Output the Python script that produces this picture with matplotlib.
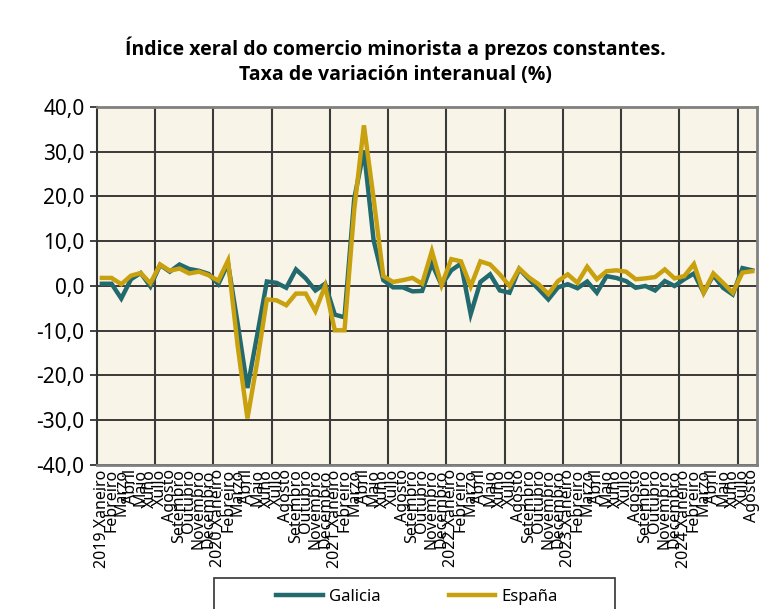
import numpy
import matplotlib
matplotlib.use('Agg')
import matplotlib.pyplot as plt
from matplotlib.patches import Rectangle

plt.rcParams['font.family'] = ['Noto Sans', 'DejaVu Sans']

#months and years of the series
months = ['Xaneiro', 'Febreiro', 'Marzo', 'Abril', 'Maio', 'Xuño', 'Xullo',
          'Agosto', 'Setembro', 'Outubro', 'Novembro', 'Decembro']
years = [2019, 2020, 2021, 2022, 2023, 2024]

#year-on-year rate (%), 2019 Xaneiro .. 2024 Agosto
galicia = [0.5, 0.5, -2.8, 1.5, 2.9, -0.1, 4.7, 3.2, 4.8, 3.8, 3.4, 2.7,
           0.4, 5.0, -8.5, -22.8, -11.0, 1.0, 0.7, -0.4, 3.7, 1.7, -1.0, 0.5,
           -6.4, -7.0, 19.5, 30.3, 10.2, 1.3, -0.3, -0.3, -1.2, -1.1, 5.0, 0.2,
           3.5, 5.0, -6.3, 0.9, 2.6, -1.0, -1.5, 3.8, 1.5, -0.7, -3.0, -0.3,
           0.4, -0.5, 1.0, -1.5, 2.2, 1.8, 1.1, -0.4, 0.0, -1.0, 1.1, 0.0,
           1.5, 2.8, -1.5, 2.4, -0.4, -1.9, 4.0, 3.5]
espana = [1.8, 1.8, 0.4, 2.3, 2.9, 0.6, 4.8, 3.4, 3.9, 2.8, 3.2, 2.4,
          1.2, 5.7, -13.5, -29.6, -17.0, -3.0, -3.2, -4.3, -1.7, -1.7, -5.6, 0.0,
          -9.9, -9.9, 17.0, 35.9, 19.5, 2.2, 0.9, 1.3, 1.8, 0.5, 7.8, 0.2,
          6.0, 5.5, -0.1, 5.5, 4.8, 2.6, 0.0, 3.9, 1.9, 0.4, -1.8, 1.1,
          2.6, 0.7, 4.3, 1.5, 3.3, 3.5, 3.2, 1.5, 1.7, 2.0, 3.7, 1.7,
          2.2, 4.9, -1.5, 2.8, 0.7, -1.5, 3.0, 3.3]

yticks = [-40, -30, -20, -10, 0, 10, 20, 30, 40]

#build the tick labels: year only on Xaneiro
labels = []
for y in years:
    for m in months:
        if len(labels) == len(galicia):
            break
        if m == 'Xaneiro':
            labels.append(str(y) + ' ' + m)
        else:
            labels.append(m)

x = numpy.arange(len(galicia))

fig = plt.figure(figsize=(7.68, 6.09), dpi=100)
ax = fig.add_axes([0.1263, 0.2365, 0.8594, 0.5878])
ax.set_facecolor('#F8F5E8')

# grid: horizontal every 10, vertical every 6 months
for v in yticks:
    ax.axhline(v, color='#1a1a1a', lw=1.2, zorder=1)
for k in range(6, len(x), 6):
    ax.axvline(k - 0.5, color='#3a3a3a', lw=1.5, zorder=1)

ax.plot(x, galicia, color='#236A6E', lw=3.2, label='Galicia', zorder=3, solid_joinstyle='miter')
ax.plot(x, espana, color='#C9A00E', lw=3.2, label='España', zorder=4, solid_joinstyle='miter')

ax.set_xlim(-0.5, len(x) - 0.5)
ax.set_ylim(-40, 40)
ax.set_yticks(yticks)
ax.set_yticklabels([('%.1f' % v).replace('.', ',') for v in yticks], fontsize=15)
ax.set_xticks(x)
ax.set_xticklabels(labels, rotation=90, fontsize=11.5)
ax.tick_params(axis='x', length=0, pad=3)
ax.tick_params(axis='y', length=5, width=1.2, color='#222222', pad=4)

for s in ['top', 'right', 'bottom']:
    ax.spines[s].set_color('#808080')
    ax.spines[s].set_linewidth(2)
ax.spines['left'].set_color('#333333')
ax.spines['left'].set_linewidth(1.5)

fig.text(0.515, 0.90, 'Índice xeral do comercio minorista a prezos constantes.\nTaxa de variación interanual (%)',
         ha='center', va='center', fontsize=14, fontweight='bold', linespacing=1.3,
         family=['Open Sans', 'DejaVu Sans'])

#legend frame is cut by the bottom of the picture
fig.add_artist(Rectangle((214 / 768, -0.05), (615 - 214) / 768, 0.05 + 31 / 609,
                         transform=fig.transFigure, fill=False, ec='#333333', lw=1.2))
ax.legend(loc='center', bbox_to_anchor=(417 / 768, 12 / 609), bbox_transform=fig.transFigure,
          ncol=2, frameon=False, fontsize=12, handlelength=2.8, handletextpad=0.35,
          columnspacing=4.1)

fig.savefig('out.png', dpi=100)
